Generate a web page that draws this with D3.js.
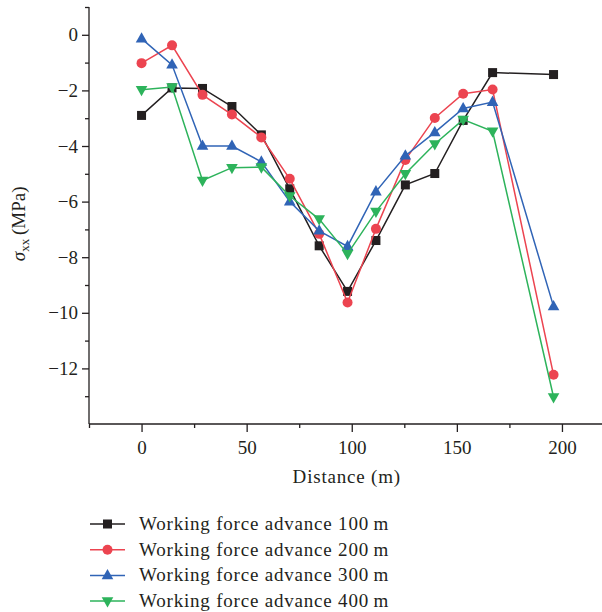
<!DOCTYPE html>
<html>
<head>
<meta charset="utf-8">
<script src="https://cdn.jsdelivr.net/npm/d3@7/dist/d3.min.js"></script>
<style>
  html, body { margin: 0; padding: 0; background: #fff; }
  svg { display: block; }
  text { font-family: "Liberation Serif", "Times New Roman", serif; fill: #231f20; }
</style>
</head>
<body>
<svg id="chart" width="602" height="612"></svg>
<script>
// Distance along the measuring line (m)
const distance = [0, 14.5, 29, 43, 57, 70.5, 84.5, 98, 111.5, 125.5, 139.5, 153, 167, 196];

// Horizontal stress sigma_xx (MPa) for each face advance
const advance100 = [-2.90, -1.91, -1.93, -2.58, -3.60, -5.54, -7.59, -9.23, -7.40, -5.40, -4.99, -3.08, -1.36, -1.43];
const advance200 = [-1.02, -0.38, -2.16, -2.87, -3.69, -5.18, -7.16, -9.63, -6.98, -4.50, -2.99, -2.12, -1.97, -12.23];
const advance300 = [-0.14, -1.08, -4.00, -4.00, -4.57, -6.00, -7.05, -7.61, -5.64, -4.35, -3.51, -2.65, -2.42, -9.77];
const advance400 = [-1.98, -1.88, -5.24, -4.78, -4.76, -5.80, -6.63, -7.88, -6.36, -5.00, -3.93, -3.05, -3.47, -13.03];

const seriesNames = [
  "Working force advance 100\u2009m",
  "Working force advance 200\u2009m",
  "Working force advance 300\u2009m",
  "Working force advance 400\u2009m"
];
const seriesColors = ["#231f20", "#ec4450", "#3064b6", "#2db35b"];
const seriesSymbols = ["square", "circle", "triangle", "triangleDown"];

const xMajorTicks = [0, 50, 100, 150, 200];
const xMinorTicks = [-25, 25, 75, 125, 175];
const yMajorTicks = [0, -2, -4, -6, -8, -10, -12];
const yMinorTicks = [1, -1, -3, -5, -7, -9, -11, -13];

const series = [advance100, advance200, advance300, advance400].map((vals, i) => ({
  name: seriesNames[i],
  color: seriesColors[i],
  symbol: seriesSymbols[i],
  points: vals.map((v, j) => ({ x: distance[j], y: v }))
}));

const svg = d3.select("#chart");

const x = d3.scaleLinear().domain([-25, 220]).range([89, 604]);
const y = d3.scaleLinear().domain([-14, 1]).range([424, 7]);

const fontSize = 19;

// Axes
const axisColor = "#231f20";
const g = svg.append("g");

// y axis spine and x axis spine
g.append("line").attr("x1", x(-25)).attr("x2", x(-25)).attr("y1", y(1)).attr("y2", y(-14))
  .attr("stroke", axisColor).attr("stroke-width", 1.3);
g.append("line").attr("x1", x(-25)).attr("x2", 602).attr("y1", y(-14)).attr("y2", y(-14))
  .attr("stroke", axisColor).attr("stroke-width", 1.3);

const yAxis = d3.axisLeft(y).tickValues(yMajorTicks).tickSize(7).tickPadding(4)
  .tickFormat(d3.format("d"));
const yAxisG = svg.append("g").attr("transform", `translate(${x(-25)},0)`).call(yAxis);
const yMinorG = svg.append("g").attr("transform", `translate(${x(-25)},0)`)
  .call(d3.axisLeft(y).tickValues(yMinorTicks).tickSize(4).tickFormat(""));

const xAxis = d3.axisBottom(x).tickValues(xMajorTicks).tickSize(8).tickPadding(9)
  .tickFormat(d3.format("d"));
const xAxisG = svg.append("g").attr("transform", `translate(0,${y(-14)})`).call(xAxis);
const xMinorG = svg.append("g").attr("transform", `translate(0,${y(-14)})`)
  .call(d3.axisBottom(x).tickValues(xMinorTicks).tickSize(4).tickFormat(""));

[yAxisG, yMinorG, xAxisG, xMinorG].forEach(a => {
  a.select(".domain").remove();
  a.selectAll(".tick line").attr("stroke", axisColor).attr("stroke-width", 1.3);
  a.selectAll(".tick text")
    .attr("font-family", '"Liberation Serif", "Times New Roman", serif')
    .attr("font-size", fontSize).attr("fill", axisColor);
});

// Axis titles
svg.append("text")
  .attr("x", (x(0) + x(200)) / 2 - 5).attr("y", 483)
  .attr("text-anchor", "middle").attr("font-size", fontSize)
  .style("letter-spacing", "0.8px")
  .text("Distance (m)");

const yTitle = svg.append("text")
  .attr("transform", `translate(25,${y(-6.8)}) rotate(-90)`)
  .attr("text-anchor", "middle").attr("font-size", fontSize);
yTitle.append("tspan").attr("font-style", "italic").text("\u03c3");
yTitle.append("tspan").attr("font-size", 13).attr("dy", 4).text("xx");
yTitle.append("tspan").attr("dy", -4).text("\u2009(MPa)");

// Marker shapes
function marker(sel, symbol, color) {
  if (symbol === "square") {
    sel.append("rect").attr("x", -4.5).attr("y", -4.5).attr("width", 9).attr("height", 9).attr("fill", color);
  } else if (symbol === "circle") {
    sel.append("circle").attr("r", 5).attr("fill", color);
  } else if (symbol === "triangle") {
    sel.append("path").attr("d", "M0,-6.5L5.8,3.8L-5.8,3.8Z").attr("fill", color);
  } else {
    sel.append("path").attr("d", "M0,6.5L5.8,-3.8L-5.8,-3.8Z").attr("fill", color);
  }
}

const line = d3.line().x(d => x(d.x)).y(d => y(d.y));

// Series lines first, then markers in drawing order
series.forEach(s => {
  svg.append("path").datum(s.points)
    .attr("d", line).attr("fill", "none")
    .attr("stroke", s.color).attr("stroke-width", 1.5);
  svg.append("g").selectAll("g").data(s.points).join("g")
    .attr("transform", d => `translate(${x(d.x)},${y(d.y)})`)
    .each(function () { marker(d3.select(this), s.symbol, s.color); });
});

// Legend
const legend = svg.append("g");
series.forEach((s, i) => {
  const cy = 524 + i * 25.7;
  const row = legend.append("g").attr("transform", `translate(0,${cy})`);
  row.append("line").attr("x1", 90).attr("x2", 125).attr("y1", 0).attr("y2", 0)
    .attr("stroke", s.color).attr("stroke-width", 1.5);
  const m = row.append("g").attr("transform", "translate(107.5,0)");
  marker(m, s.symbol, s.color);
  row.append("text").attr("x", 139).attr("y", 6)
    .attr("font-size", fontSize).style("letter-spacing", "0.8px")
    .text(s.name);
});
</script>
</body>
</html>
